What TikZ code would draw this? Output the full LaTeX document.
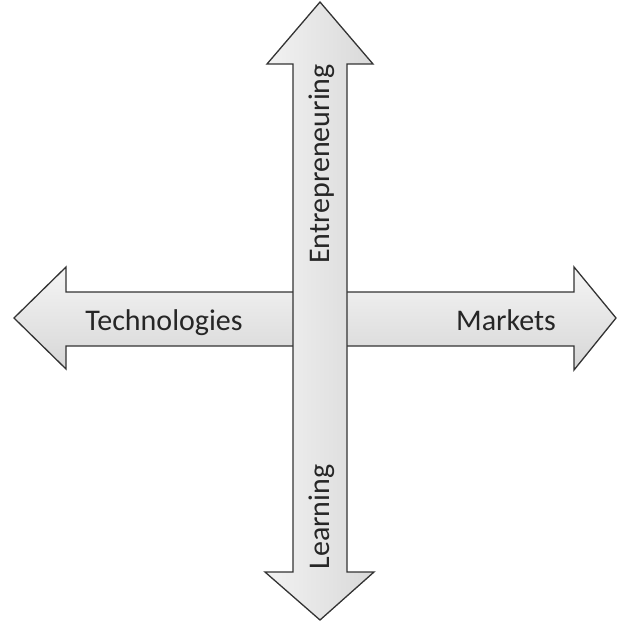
\documentclass[tikz,border=0pt]{standalone}
\usepackage{fontspec}
\setmainfont{Carlito}
\usetikzlibrary{arrows}

\tikzset{
  bigarrow/.style={draw=black!80, line width=1.3pt, line join=miter},
  label/.style={font=\fontsize{30}{34}\selectfont, text=black!85, inner sep=0pt, anchor=base}
}

\begin{document}
\begin{tikzpicture}[x=1pt,y=-1pt]
    \useasboundingbox (0,0) rectangle (618,623);

    % left-right arrow
    \draw[bigarrow, top color=gray!8, bottom color=gray!32]
        (14,318) -- (66,267) -- (66,292) -- (574,292) -- (574,267) -- (616,318)
        -- (574,370) -- (574,346) -- (66,346) -- (66,369) -- cycle;
    \draw (164,330) node[label] (tech) {Technologies};
    \draw (506,330) node[label] (markets) {Markets};

    % up-down arrow, drawn over the other one
    \draw[bigarrow, left color=gray!10, right color=gray!30]
        (320,2) -- (373,64) -- (347,64) -- (347,572) -- (374,572) -- (320,620)
        -- (265,572) -- (293,572) -- (293,64) -- (267,64) -- cycle;
    \draw (329,164) node[label, rotate=90] (entre) {Entrepreneuring};
    \draw (329,517) node[label, rotate=90] (learn) {Learning};
\end{tikzpicture}
\end{document}
